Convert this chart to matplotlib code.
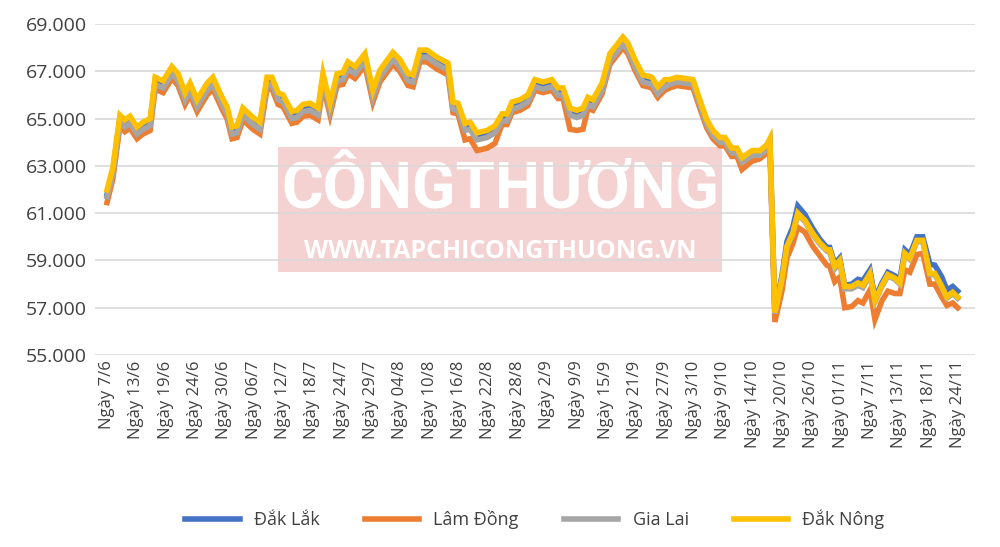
import matplotlib
matplotlib.use("Agg")
import matplotlib.pyplot as plt
from matplotlib.patches import Rectangle
from matplotlib.ticker import FuncFormatter
import numpy as np

plt.rcParams['font.family'] = ['Open Sans', 'DejaVu Sans']

tick_labels = ["Ngày 7/6","Ngày 13/6","Ngày 19/6","Ngày 24/6","Ngày 30/6","Ngày 06/7","Ngày 12/7",
               "Ngày 18/7","Ngày 24/7","Ngày 29/7","Ngày 04/8","Ngày 10/8","Ngày 16/8","Ngày 22/8",
               "Ngày 28/8","Ngày 2/9","Ngày 9/9","Ngày 15/9","Ngày 21/9","Ngày 27/9","Ngày 3/10",
               "Ngày 9/10","Ngày 14/10","Ngày 20/10","Ngày 26/10","Ngày 01/11","Ngày 7/11",
               "Ngày 13/11","Ngày 18/11","Ngày 24/11"]

# position of each observation along the category axis (in tick units)
pos = [0,.20,.44,.61,.78,1.02,1.23,1.47,1.64,1.91,2.21,2.42,2.66,2.83,3.07,3.41,3.61,3.92,4.09,4.26,4.43,
       4.63,4.97,5.21,5.45,5.62,5.83,6.00,6.30,6.47,6.68,6.92,7.19,7.36,7.60,7.84,8.04,8.21,8.45,8.79,9.06,
       9.30,9.74,9.98,10.26,10.43,10.66,10.90,11.24,11.62,11.79,11.96,12.20,12.37,12.61,12.95,13.22,13.46,
       13.63,13.80,14.07,14.34,14.58,14.86,15.16,15.37,15.54,15.78,16.01,16.22,16.39,16.56,16.87,17.14,
       17.58,17.75,17.99,18.26,18.57,18.77,19.01,
       19.18,19.42,19.69,19.97,20.20,20.44,20.65,20.89,21.06,21.29,21.47,21.64,21.98,22.25,22.49,22.59,
       22.76,23.00,23.17,23.37,23.54,23.78,24.05,24.29,24.53,24.63,24.80,24.97,25.14,25.38,25.59,25.76,
       26.00,26.17,26.41,26.61,26.85,27.02,27.19,27.36,27.60,27.80,28.04,28.21,28.45,28.62,28.82,28.99]

dak_nong = [61.98,62.95,65.15,64.95,65.1,64.65,64.85,65.0,66.75,66.6,67.2,66.9,66.1,66.5,65.8,66.5,66.75,65.9,65.5,64.65,64.7,65.45,65.05,64.85,66.75,66.75,66.1,66.0,65.3,65.35,65.6,65.65,65.45,66.9,65.65,66.9,66.95,67.4,67.2,67.75,66.2,
            67.05,67.8,67.5,66.9,66.85,67.9,67.9,67.6,67.35,65.7,65.65,64.8,64.85,64.4,64.5,64.7,65.2,65.2,65.7,65.8,66.0,66.65,66.55,66.65,66.3,66.3,65.45,65.35,65.45,65.9,65.8,66.5,67.75,68.45,68.2,67.5,66.85,66.75,66.35,66.65,
            66.65,66.75,66.7,66.65,65.8,64.95,64.5,64.2,64.2,63.75,63.75,63.35,63.65,63.65,63.9,64.15,56.8,58.2,59.6,60.15,61.0,60.7,60.15,59.75,59.45,59.45,58.75,59.0,57.9,57.9,58.05,57.95,58.45,57.3,57.95,58.4,58.25,58.05,59.3,59.1,59.85,59.85,58.45,58.45,57.9,57.45,57.65,57.45]
dak_lak = [61.8,62.8,65.0,64.8,64.95,64.5,64.7,64.85,66.6,66.45,67.05,66.75,65.95,66.35,65.65,66.35,66.6,65.75,65.35,64.5,64.55,65.3,64.9,64.7,66.6,66.6,65.95,65.85,65.15,65.2,65.45,65.5,65.3,66.75,65.5,66.75,66.8,67.25,67.05,67.6,66.05,
           66.9,67.65,67.35,66.75,66.7,67.75,67.75,67.45,67.2,65.55,65.5,64.65,64.7,64.25,64.35,64.55,65.05,65.05,65.55,65.65,65.85,66.5,66.4,66.5,66.15,66.15,65.3,65.2,65.3,65.75,65.65,66.35,67.6,68.3,68.05,67.35,66.7,66.6,66.2,66.5,
           66.55,66.65,66.6,66.55,65.7,64.85,64.4,64.1,64.1,63.65,63.65,63.25,63.55,63.55,63.8,64.05,56.9,58.35,59.8,60.4,61.3,60.95,60.35,59.9,59.55,59.55,58.85,59.1,57.95,58.0,58.2,58.15,58.6,57.4,58.05,58.5,58.35,58.2,59.45,59.25,60.0,60.0,58.85,58.8,58.3,57.75,57.9,57.7]
gia_lai = [61.7,62.65,64.85,64.65,64.8,64.35,64.55,64.7,66.45,66.3,66.9,66.6,65.8,66.2,65.5,66.2,66.45,65.6,65.2,64.35,64.4,65.15,64.75,64.55,66.45,66.45,65.8,65.7,65.0,65.05,65.3,65.35,65.15,66.6,65.35,66.6,66.65,67.1,66.9,67.45,65.9,
           66.75,67.5,67.2,66.6,66.55,67.6,67.6,67.3,67.05,65.4,65.35,64.5,64.55,64.1,64.2,64.4,64.9,64.9,65.4,65.5,65.7,66.35,66.25,66.35,66.0,66.0,65.15,65.05,65.15,65.6,65.5,66.2,67.45,68.15,67.9,67.2,66.55,66.45,66.05,66.35,
           66.45,66.55,66.5,66.45,65.6,64.75,64.3,64.0,64.0,63.55,63.55,63.15,63.45,63.45,63.7,63.95,56.75,58.15,59.55,60.1,60.95,60.65,60.1,59.7,59.4,59.35,58.65,58.9,57.8,57.8,57.95,57.85,58.4,57.25,57.9,58.35,58.2,58.0,59.25,59.05,59.8,59.8,58.4,58.4,57.85,57.4,57.6,57.4]
lam_dong = [61.45,62.45,64.7,64.45,64.6,64.15,64.35,64.5,66.25,66.1,66.7,66.4,65.6,66.0,65.3,66.0,66.25,65.4,65.0,64.15,64.2,64.95,64.55,64.35,66.25,66.25,65.6,65.5,64.8,64.85,65.1,65.15,64.95,66.4,65.15,66.4,66.45,66.9,66.7,67.25,65.7,
            66.55,67.3,67.0,66.4,66.35,67.4,67.4,67.1,66.85,65.25,65.2,64.1,64.15,63.65,63.75,63.95,64.75,64.75,65.25,65.35,65.55,66.2,66.1,66.2,65.85,65.85,64.55,64.5,64.55,65.45,65.35,66.05,67.3,68.0,67.75,67.05,66.4,66.3,65.9,66.2,
            66.3,66.4,66.35,66.3,65.45,64.6,64.15,63.85,63.85,63.4,63.4,62.85,63.2,63.3,63.55,63.8,56.4,57.7,59.1,59.7,60.4,60.2,59.6,59.2,58.8,58.75,58.1,58.3,57.0,57.05,57.3,57.2,57.75,56.5,57.3,57.7,57.6,57.6,58.6,58.5,59.25,59.3,58.0,58.0,57.45,57.1,57.2,57.0]

series = [("Đắk Lắk", dak_lak, "#4472C4"), ("Lâm Đồng", lam_dong, "#ED7D31"),
          ("Gia Lai", gia_lai, "#A5A5A5"), ("Đắk Nông", dak_nong, "#FFC000")]

fig = plt.figure(figsize=(10, 5.47), dpi=100)
ax = fig.add_axes([0.095, 0.351, 0.88, 0.605])
ax.set_zorder(2)
ax.patch.set_alpha(0)

fig.patches.append(Rectangle((0.278, 0.503), 0.444, 0.228, transform=fig.transFigure,
                             facecolor="#F2C4C4", alpha=0.75, zorder=0.5, edgecolor="none"))
fig.text(0.5, 0.652, "CÔNGTHƯƠNG", ha="center", va="center", fontsize=46, fontweight="bold",
         family="Roboto", color="white", zorder=0.6)
fig.text(0.5, 0.54, "WWW.TAPCHICONGTHUONG.VN", ha="center", va="center", fontsize=18,
         fontweight="bold", color="white", zorder=0.6)

for name, vals, col in series:
    ax.plot(pos, np.array(vals) * 1000, color=col, lw=4, label=name, solid_joinstyle="miter", zorder=3)

ax.set_ylim(55000, 69000)
ax.set_yticks(np.arange(55000, 69001, 2000))
ax.yaxis.set_major_formatter(FuncFormatter(lambda v, p: f"{v:,.0f}".replace(",", ".")))
ax.set_xlim(-0.41, 29.58)
ax.set_xticks(range(len(tick_labels)))
ax.set_xticklabels(tick_labels, rotation=90, fontsize=12, color="#404040")
ax.tick_params(axis="y", labelsize=14, colors="#404040", length=0, pad=6)
ax.tick_params(axis="x", length=0, pad=4)
ax.grid(axis="y", color="#D9D9D9", lw=1.2, zorder=0)
for s in ax.spines.values():
    s.set_visible(False)

leg = ax.legend(loc="center", bbox_to_anchor=(0.5, -0.496), ncol=4, frameon=False,
                fontsize=13, handlelength=3, columnspacing=2.5, labelcolor="#404040")
fig.savefig("out.png", dpi=100)
